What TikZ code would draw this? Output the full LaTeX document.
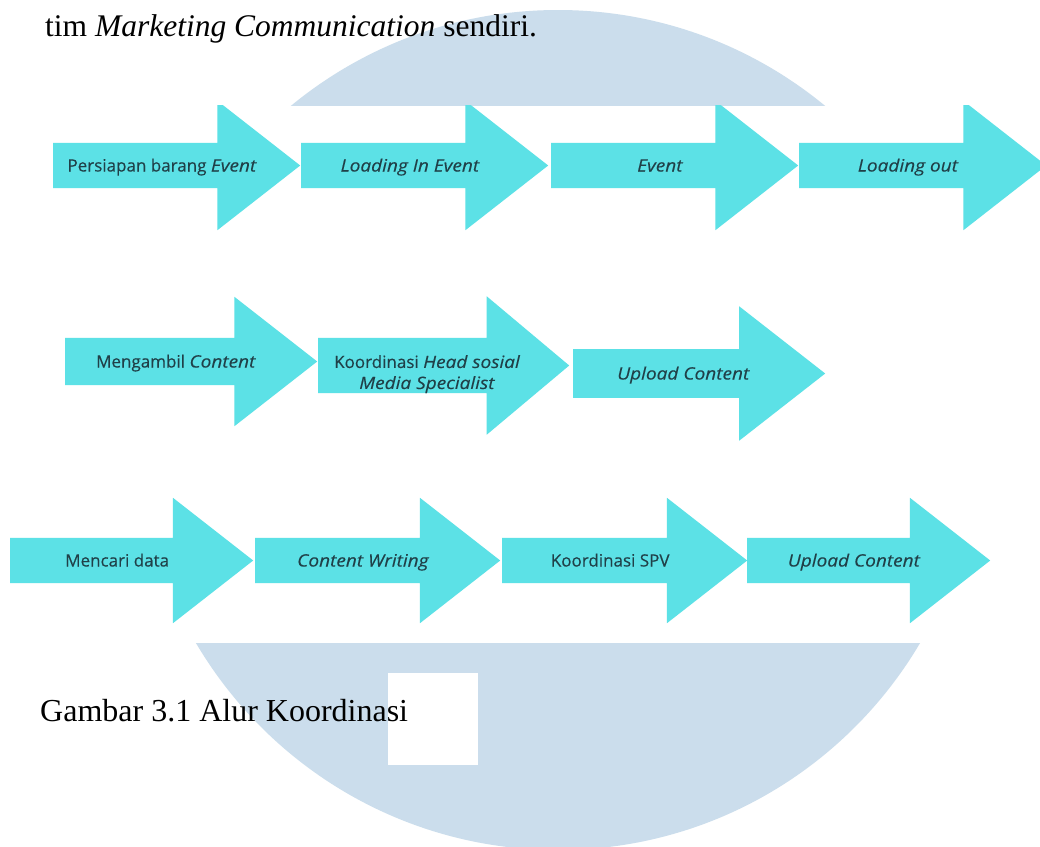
\documentclass[tikz,border=0pt]{standalone}
\usepackage{fontspec}
\setmainfont{Liberation Serif}
\newfontfamily\arrowfont{Open Sans}[FakeBold=0.25, ItalicFeatures={FakeStretch=1.12}]
\usetikzlibrary{shapes.arrows}
\definecolor{stepcyan}{RGB}{92,225,230}
\definecolor{steptext}{RGB}{32,64,72}
\definecolor{markblue}{RGB}{203,221,236}
\tikzset{
  flow/.style={single arrow, fill=stepcyan, draw=none, text=steptext,
    font=\arrowfont\fontsize{17}{21}\selectfont, align=center,
    single arrow head extend=42pt, single arrow tip angle=76,
    minimum height=247pt, inner xsep=0pt, inner ysep=14.5pt, anchor=tail},
  oneline/.style={text height=14pt, text depth=2pt},
  pagetext/.style={anchor=base west, inner sep=0pt}
}

\begin{document}
\begin{tikzpicture}[x=1pt, y=-1pt]
    \useasboundingbox (0,0) rectangle (1040,846);
    % page with watermark
    \fill[white] (0,0) rectangle (1040,846);
    \fill[markblue] (558,430) circle[radius=420pt];
    \fill[white] (388,673) rectangle (478,765);
    \fill[white] (0,105.5) rectangle (1040,643);
    \node[pagetext, font=\fontsize{31.5}{36}\selectfont] (intro) at (45,36) {tim \textit{Marketing Communication} sendiri.};
    \node[pagetext, font=\fontsize{32}{36}\selectfont] (caption) at (40,721) {Gambar 3.1 Alur Koordinasi};
    % flow diagram
    \begin{scope}
    \clip (0,105.5) rectangle (1040,643);
    % event
    \node[flow, oneline] (persiapan) at (53,165.5) {Persiapan barang \textit{Event}};
    \node[flow, oneline] (loadin) at (301,165.5) {\textit{Loading In Event}};
    \node[flow, oneline] (event) at (551,165.5) {\textit{Event}};
    \node[flow, oneline] (loadout) at (799,165.5) {\textit{Loading out}};
    % content
    \node[flow, oneline, minimum height=252pt, inner ysep=15.5pt, single arrow head extend=41pt] (ambil) at (65,361.5) {Mengambil \textit{Content}};
    \node[flow, minimum height=251pt, inner ysep=0pt, single arrow head extend=41.5pt, single arrow tip angle=80] (head) at (318,365.5) {\rule{0pt}{30pt}Koordinasi \textit{Head sosial}\\\textit{Media Specialist}};
    \node[flow, oneline, minimum height=252pt, inner ysep=16.25pt, single arrow head extend=42.75pt] (upload) at (573,373.5) {\textit{Upload Content}};
    % writing
    \node[flow, oneline, minimum height=243pt, single arrow head extend=40pt] (data) at (10,560.5) {Mencari data};
    \node[flow, oneline, minimum height=245pt, single arrow head extend=40pt] (writing) at (255,560.5) {\textit{Content Writing}};
    \node[flow, oneline, minimum height=245pt, single arrow head extend=40pt] (spv) at (502,560.5) {Koordinasi SPV};
    \node[flow, oneline, minimum height=243pt, single arrow head extend=40pt] (posting) at (747,560.5) {\textit{Upload Content}};
    \end{scope}
\end{tikzpicture}
\end{document}
